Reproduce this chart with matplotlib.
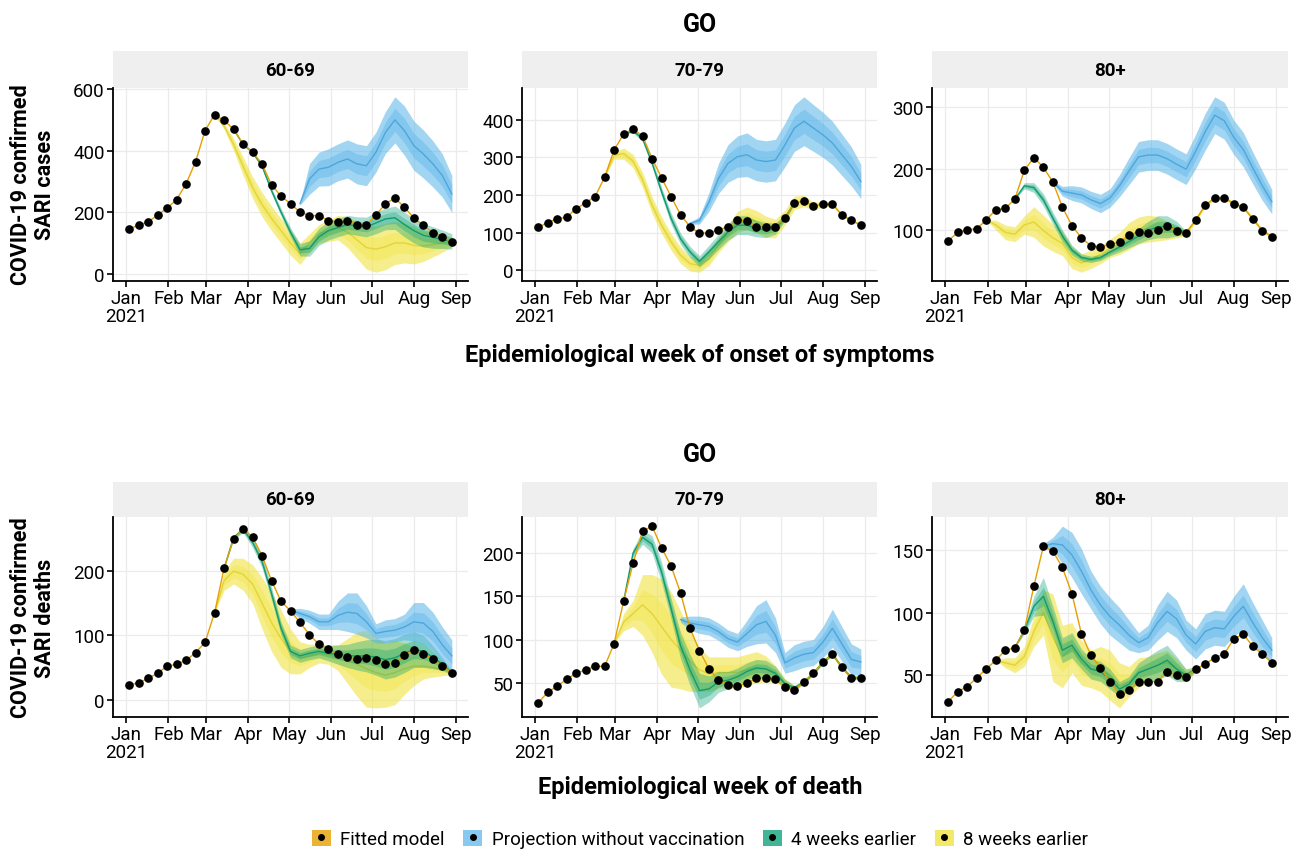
import numpy as np
import pandas as pd
import matplotlib
matplotlib.use("Agg")
import matplotlib.pyplot as plt
from matplotlib.patches import Patch
from matplotlib.lines import Line2D

plt.rcParams['font.family'] = ['Roboto', 'DejaVu Sans']

# weekly epidemiological weeks (Sunday start)
weeks = pd.date_range("2021-01-03", "2021-08-29", freq="7D")

age_groups = ["60-69", "70-79", "80+"]

# ---------------- cases (onset of symptoms) ----------------
cases_obs = {
    "60-69": [144, 159, 168, 191, 213, 241, 292, 364, 465, 517, 498, 470, 422, 395, 357, 289, 252, 228,
              200, 189, 189, 173, 168, 173, 159, 159, 191, 227, 246, 216, 181, 157, 133, 120, 103],
    "70-79": [114, 127, 137, 141, 164, 179, 196, 247, 319, 362, 375, 357, 297, 246, 196, 148, 116, 98,
              100, 107, 116, 133, 132, 116, 114, 116, 140, 179, 184, 171, 176, 176, 147, 133, 120],
    "80+": [82, 96, 100, 102, 116, 133, 135, 150, 197, 218, 202, 178, 137, 107, 87, 74, 72, 77,
            80, 92, 96, 95, 100, 106, 99, 95, 116, 140, 152, 152, 143, 137, 118, 99, 89],
}
# scenarios: (first week index, median, half width of 95% band)
cases_novax = {
    "60-69": (18, [228, 308, 340, 346, 362, 373, 357, 351, 395, 459, 500, 465, 416, 389, 357, 319, 259],
              [5, 50, 55, 60, 60, 62, 65, 65, 65, 68, 75, 80, 80, 78, 75, 70, 60]),
    "70-79": (16, [125, 133, 182, 244, 284, 302, 307, 293, 289, 293, 333, 378, 396, 378, 360, 338, 307, 276, 236],
              [3, 10, 25, 40, 50, 55, 58, 55, 55, 55, 58, 62, 65, 62, 60, 58, 55, 52, 45]),
    "80+": (11, [178, 163, 160, 157, 149, 143, 152, 172, 196, 219, 222, 222, 216, 207, 199, 228, 260, 287,
                 278, 251, 231, 201, 172, 146],
            [2, 8, 12, 13, 14, 15, 15, 18, 22, 25, 25, 25, 25, 25, 25, 28, 30, 30, 30, 28, 28, 26, 24, 20]),
}
cases_4w = {
    "60-69": (11, [470, 420, 395, 350, 270, 200, 135, 78, 82, 120, 140, 150, 160, 155, 152, 165, 178, 182,
                   160, 140, 125, 118, 112, 105],
              [0, 3, 5, 8, 10, 12, 15, 20, 25, 28, 30, 30, 30, 30, 32, 35, 35, 38, 40, 40, 38, 35, 30, 25]),
    "70-79": (9, [362, 370, 350, 285, 209, 138, 84, 49, 24, 49, 76, 102, 120, 120, 111, 107, 111, 140, 179],
              [0, 5, 8, 10, 12, 15, 15, 15, 15, 18, 20, 22, 25, 25, 22, 20, 15, 8, 3]),
    "80+": (7, [150, 172, 169, 149, 119, 90, 67, 55, 52, 55, 64, 72, 81, 90, 99, 105, 105, 102, 95],
            [0, 5, 8, 10, 10, 10, 8, 6, 5, 5, 6, 8, 10, 12, 15, 18, 18, 12, 3]),
}
cases_8w = {
    "60-69": (9, [517, 480, 420, 350, 280, 225, 180, 140, 100, 65, 100, 130, 140, 150, 135, 110, 85, 80,
                  88, 100, 100, 92, 90, 95, 100, 103],
              [0, 10, 20, 30, 35, 40, 40, 40, 40, 35, 30, 30, 35, 40, 50, 60, 70, 75, 75, 70, 65, 60, 50, 40, 30, 15]),
    "70-79": (7, [247, 305, 310, 290, 240, 173, 120, 76, 40, 18, 13, 31, 67, 98, 129, 138, 129, 116, 111,
                  140, 179, 184, 171, 176, 176, 147, 133, 120],
              [0, 10, 15, 18, 20, 22, 22, 22, 22, 20, 18, 18, 20, 22, 28, 30, 30, 28, 25, 20, 18, 15, 10, 8,
               5, 3, 2, 0]),
    "80+": (4, [116, 108, 96, 93, 108, 113, 99, 87, 78, 55, 46, 52, 60, 70, 78, 90, 99, 102, 102, 99, 97,
                95, 116, 140, 152, 152, 143, 137, 118, 99, 89],
            [0, 8, 12, 12, 15, 25, 25, 22, 20, 18, 15, 15, 15, 15, 18, 22, 22, 22, 20, 15, 10, 5, 3, 3, 3,
             3, 3, 3, 3, 3, 3]),
}

# ---------------- deaths ----------------
deaths_obs = {
    "60-69": [23, 26, 33, 41, 52, 55, 61, 73, 89, 135, 204, 250, 266, 253, 224, 185, 153, 138,
              120, 101, 86, 78, 71, 66, 63, 64, 62, 55, 57, 69, 77, 71, 63, 52, 42],
    "70-79": [27, 39, 46, 54, 61, 65, 69, 69, 95, 144, 188, 225, 231, 206, 185, 154, 113, 87,
              66, 53, 48, 46, 50, 55, 56, 54, 45, 42, 51, 61, 74, 83, 68, 56, 56],
    "80+": [29, 37, 41, 48, 55, 62, 70, 72, 86, 121, 153, 149, 136, 115, 83, 66, 56, 45,
            35, 38, 45, 45, 45, 53, 50, 49, 55, 59, 64, 67, 79, 83, 73, 67, 60],
}
deaths_novax = {
    "60-69": (17, [139, 134, 129, 121, 121, 131, 136, 134, 121, 103, 106, 108, 113, 121, 119, 106, 85, 68],
              [2, 8, 10, 12, 12, 22, 30, 32, 25, 15, 18, 18, 20, 30, 32, 30, 28, 25]),
    "70-79": (15, [123, 119, 117, 115, 109, 101, 97, 107, 117, 121, 105, 73, 79, 83, 85, 97, 113, 95, 77, 74],
              [3, 8, 10, 10, 10, 10, 10, 15, 22, 25, 20, 12, 15, 15, 15, 18, 22, 20, 18, 15]),
    "80+": (10, [153, 155, 154, 146, 133, 118, 106, 97, 90, 82, 76, 80, 92, 101, 95, 82, 75, 85, 88, 87,
                 97, 105, 92, 80, 70],
            [2, 5, 15, 18, 18, 15, 15, 15, 14, 12, 8, 10, 14, 16, 15, 12, 12, 14, 14, 14, 16, 18, 16, 14, 10]),
}
deaths_4w = {
    "60-69": (10, [204, 252, 265, 245, 215, 165, 111, 75, 68, 72, 75, 72, 70, 68, 68, 68, 66, 62, 65, 72,
                   78, 75, 66, 55, 42],
              [0, 3, 5, 8, 10, 10, 10, 10, 10, 10, 10, 12, 15, 18, 22, 25, 28, 30, 30, 30, 28, 25, 18, 10, 3]),
    "70-79": (9, [144, 200, 218, 210, 178, 136, 93, 65, 41, 43, 51, 53, 57, 63, 67, 66, 61, 49, 44, 51,
                  61, 74, 83, 68, 56, 56],
              [0, 5, 8, 10, 12, 12, 15, 18, 20, 15, 12, 10, 10, 10, 10, 10, 8, 5, 3, 2, 2, 2, 2, 2, 2, 2]),
    "80+": (7, [72, 86, 105, 113, 93, 70, 74, 63, 55, 53, 47, 39, 43, 52, 55, 58, 62, 55, 50, 55],
            [0, 3, 8, 15, 12, 10, 10, 8, 8, 8, 8, 6, 6, 8, 10, 12, 12, 10, 5, 2]),
}
deaths_8w = {
    "60-69": (9, [135, 185, 200, 195, 180, 150, 120, 95, 75, 65, 68, 72, 70, 65, 60, 55, 48, 42, 38, 42,
                  48, 52, 52, 50, 47, 42],
              [0, 15, 20, 25, 30, 40, 45, 45, 35, 25, 18, 15, 15, 20, 35, 50, 60, 55, 50, 50, 40, 30, 20,
               15, 10, 3]),
    "70-79": (8, [95, 120, 130, 140, 130, 115, 100, 88, 75, 65, 60, 62, 62, 62, 65, 68, 66, 60, 50, 44,
                  51, 61, 74, 83, 68, 56, 56],
              [0, 10, 15, 35, 45, 55, 55, 45, 35, 25, 20, 18, 18, 18, 18, 18, 15, 10, 5, 3, 2, 2, 2, 2, 2,
               2, 2]),
    "80+": (5, [62, 60, 58, 65, 85, 100, 80, 65, 72, 60, 55, 55, 50, 42, 45, 52, 55, 58, 60, 55, 50, 55],
            [0, 4, 6, 8, 12, 18, 35, 25, 20, 18, 15, 18, 20, 18, 12, 12, 10, 10, 10, 8, 5, 2]),
}

cases_yticks = {"60-69": [0, 200, 400, 600], "70-79": [0, 100, 200, 300, 400], "80+": [100, 200, 300]}
deaths_yticks = {"60-69": [0, 100, 200], "70-79": [50, 100, 150, 200], "80+": [50, 100, 150]}

col_fit = "#E69F00"
col_novax = "#56B4E9"
col_4w = "#009E73"
col_8w = "#F0E442"

W, H = 1298, 854
fig = plt.figure(figsize=(W / 100, H / 100), dpi=100)


def px_axes(x0, y0, x1, y1):
    return fig.add_axes([x0 / W, 1 - y1 / H, (x1 - x0) / W, (y1 - y0) / H])


def draw_scenario(ax, scen, color, lcolor, z, a_out, a_in):
    start, mid, hw = scen
    mid = np.array(mid, float)
    hw = np.array(hw, float)
    x = weeks[start:start + len(mid)]
    ax.fill_between(x, mid - hw, mid + hw, color=color, alpha=a_out, lw=0, zorder=z)
    ax.fill_between(x, mid - hw / 2, mid + hw / 2, color=color, alpha=a_in, lw=0, zorder=z)
    ax.plot(x, mid, color=lcolor, lw=1.0, zorder=z + 0.5)


def draw_panel(ax, obs, novax, w4, w8, yticks):
    draw_scenario(ax, w8, col_8w, "#E3D43A", 2, 0.6, 0.4)
    draw_scenario(ax, w4, col_4w, "#129B6E", 3, 0.35, 0.3)
    draw_scenario(ax, novax, col_novax, "#4FA6DC", 4, 0.55, 0.4)
    ax.plot(weeks, obs, color=col_fit, lw=1.0, zorder=5)
    ax.plot(weeks, obs, 'o', color='black', ms=5.2, zorder=6)

    ax.set_yticks(yticks)
    ticks = pd.date_range("2021-01-01", "2021-09-01", freq="MS")
    ax.set_xticks(ticks)
    ax.set_xticklabels(["Jan\n2021"] + [t.strftime("%b") for t in ticks[1:]], linespacing=1.0)
    ax.margins(x=0.05, y=0.05)
    ax.grid(True, color="#EBEBEB", lw=0.9, zorder=0)
    ax.set_axisbelow(True)
    for s in ["top", "right"]:
        ax.spines[s].set_visible(False)
    for s in ["left", "bottom"]:
        ax.spines[s].set_linewidth(1.3)
    ax.tick_params(direction='out', length=4, width=1.2, labelsize=13.5, colors='black', pad=2)
    ax.get_xticklabels()[0].set_verticalalignment('top')


def strip(x0, y0, x1, y1, label):
    s = px_axes(x0, y0, x1, y1)
    s.set_facecolor("#EFEFEF")
    s.set_xticks([])
    s.set_yticks([])
    for sp in s.spines.values():
        sp.set_visible(False)
    s.text(0.5, 0.5, label, ha='center', va='center', fontsize=13.5, fontweight='bold',
           transform=s.transAxes)


cols_px = [(113, 468), (522, 877), (932, 1288)]
rows = [
    (52, 89, 282, cases_obs, cases_novax, cases_4w, cases_8w, cases_yticks),
    (483, 518, 718, deaths_obs, deaths_novax, deaths_4w, deaths_8w, deaths_yticks),
]

for (st, top, bot, obs, novax, w4, w8, yt) in rows:
    for (x0, x1), g in zip(cols_px, age_groups):
        strip(x0, st, x1, top, g)
        ax = px_axes(x0, top, x1, bot)
        draw_panel(ax, obs[g], novax[g], w4[g], w8[g], yt[g])

xc = 700 / W
fig.text(xc, 1 - 25 / H, "GO", ha='center', va='center', fontsize=18, fontweight='bold')
fig.text(xc, 1 - 455 / H, "GO", ha='center', va='center', fontsize=18, fontweight='bold')
fig.text(xc, 1 - 356 / H, "Epidemiological week of onset of symptoms", ha='center', va='center',
         fontsize=17, fontweight='bold')
fig.text(xc, 1 - 788 / H, "Epidemiological week of death", ha='center', va='center',
         fontsize=17, fontweight='bold')
fig.text(33 / W, 1 - 185 / H, "COVID-19 confirmed\nSARI cases", ha='center', va='center',
         rotation=90, fontsize=15.5, fontweight='bold', linespacing=1.1)
fig.text(33 / W, 1 - 618 / H, "COVID-19 confirmed\nSARI deaths", ha='center', va='center',
         rotation=90, fontsize=15.5, fontweight='bold', linespacing=1.1)

dot = Line2D([], [], marker='o', color='black', ls='', ms=4)
handles = [(Patch(facecolor=c, alpha=a, edgecolor='none'), dot)
           for c, a in [(col_fit, 0.8), (col_novax, 0.7), (col_4w, 0.75), (col_8w, 0.8)]]
labels = ["Fitted model", "Projection without vaccination", "4 weeks earlier", "8 weeks earlier"]
fig.legend(handles, labels, loc='center', bbox_to_anchor=(xc, 1 - 840 / H), ncol=4, frameon=False,
           fontsize=13.5, handlelength=1.0, handleheight=1.0, handletextpad=0.5, columnspacing=1.0)

fig.savefig("out.png", dpi=100)
